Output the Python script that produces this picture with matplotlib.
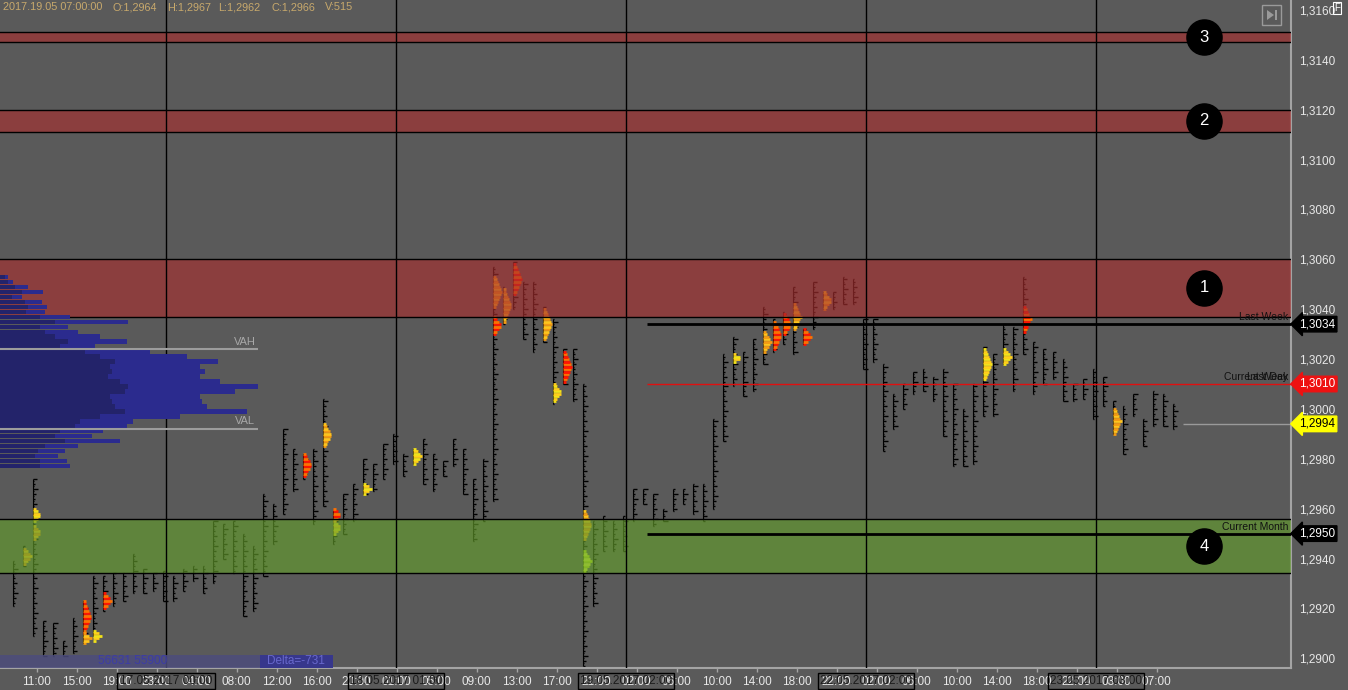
import matplotlib
matplotlib.use("Agg")
import matplotlib.pyplot as plt
import matplotlib.transforms as mtransforms
from matplotlib.patches import Rectangle, Polygon
import numpy as np

plt.rcParams['font.family'] = ['Liberation Sans', 'DejaVu Sans']

BG = '#5a5a5a'

# hourly bars, 16.05 11:00 .. 23.05 09:00
BAR_HIGH = [1.2939, 1.2945, 1.2972, 1.2915, 1.2914, 1.2907, 1.2916, 1.2923, 1.2933, 1.2933,
            1.2934, 1.2934, 1.2942, 1.2936, 1.2934, 1.2935, 1.2933, 1.2936, 1.2937, 1.2937,
            1.2955, 1.2954, 1.2955, 1.2950, 1.2945, 1.2966, 1.2962, 1.2992, 1.2984, 1.2982,
            1.2984, 1.3004, 1.2959, 1.2966, 1.2970, 1.2980, 1.2978, 1.2986, 1.2990, 1.2982,
            1.2984, 1.2988, 1.2982,
            1.2979, 1.2988, 1.2984, 1.2972, 1.2980, 1.3057, 1.3049, 1.3059, 1.3051, 1.3051,
            1.3041, 1.3036, 1.3024, 1.3024, 1.3010, 1.2955, 1.2957, 1.2955, 1.2957, 1.2968,
            1.2968, 1.2966, 1.2960, 1.2968, 1.2968, 1.2970, 1.2970, 1.2996, 1.3022, 1.3029,
            1.3023, 1.3028, 1.3041, 1.3036, 1.3039, 1.3049, 1.3032, 1.3051, 1.3047, 1.3047,
            1.3053, 1.3052,
            1.3036, 1.3036, 1.3018, 1.3006, 1.3010, 1.3015, 1.3016, 1.3013, 1.3016, 1.3010,
            1.3000, 1.3010, 1.3025, 1.3022, 1.3034, 1.3033, 1.3053, 1.3027, 1.3024, 1.3023,
            1.3020, 1.3010, 1.3012, 1.3016, 1.3013, 1.3003, 1.3001, 1.3006, 1.2996, 1.3007,
            1.3006, 1.3002]
BAR_LOW = [1.2921, 1.2937, 1.2909, 1.2901, 1.2901, 1.2901, 1.2902, 1.2906, 1.2909, 1.2919,
           1.2921, 1.2923, 1.2926, 1.2926, 1.2927, 1.2923, 1.2923, 1.2927, 1.2931, 1.2926,
           1.2930, 1.2940, 1.2934, 1.2917, 1.2919, 1.2933, 1.2946, 1.2958, 1.2967, 1.2972,
           1.2954, 1.2961, 1.2946, 1.2950, 1.2955, 1.2966, 1.2967, 1.2972, 1.2978, 1.2973,
           1.2978, 1.2970, 1.2967,
           1.2973, 1.2977, 1.2966, 1.2947, 1.2955, 1.2963, 1.3034, 1.3040, 1.3028, 1.3023,
           1.3027, 1.3002, 1.3010, 1.3003, 1.2897, 1.2921, 1.2943, 1.2943, 1.2943, 1.2955,
           1.2962, 1.2953, 1.2955, 1.2959, 1.2962, 1.2958, 1.2955, 1.2960, 1.2987, 1.3009,
           1.3005, 1.3007, 1.3018, 1.3023, 1.3026, 1.3022, 1.3026, 1.3032, 1.3040, 1.3040,
           1.3042, 1.3042,
           1.3016, 1.3019, 1.2983, 1.2992, 1.3000, 1.3006, 1.3007, 1.3003, 1.2989, 1.2977,
           1.2977, 1.2978, 1.2997, 1.2997, 1.3018, 1.3007, 1.3022, 1.3006, 1.3010, 1.3012,
           1.3003, 1.3003, 1.3004, 1.2996, 1.3001, 1.2990, 1.2982, 1.2997, 1.2985, 1.2993,
           1.2993, 1.2992]

# high-volume clusters inside bars
HOT_BAR = [1, 2, 2, 7, 7, 8, 9, 29, 31, 32, 32, 35, 40, 48, 48, 49, 50, 53, 54, 55,
           57, 57, 72, 75, 76, 77, 78, 79, 81, 97, 99, 101, 110]
HOT_LO = [1.2938, 1.2955, 1.2948, 1.2910, 1.2906, 1.2907, 1.2920, 1.2973, 1.2985, 1.2955,
          1.2950, 1.2966, 1.2978, 1.3041, 1.3030, 1.3035, 1.3046, 1.3028, 1.3003, 1.3011,
          1.2948, 1.2935, 1.3019, 1.3023, 1.3024, 1.3030, 1.3032, 1.3026, 1.3040, 1.3012,
          1.3018, 1.3031, 1.2990]
HOT_HI = [1.2944, 1.2960, 1.2953, 1.2923, 1.2910, 1.2911, 1.2926, 1.2982, 1.2994, 1.2960,
          1.2955, 1.2970, 1.2984, 1.3053, 1.3037, 1.3048, 1.3058, 1.3040, 1.3010, 1.3023,
          1.2959, 1.2943, 1.3022, 1.3031, 1.3035, 1.3038, 1.3042, 1.3032, 1.3047, 1.3024,
          1.3024, 1.3041, 1.3000]
HOT_KIND = ['o', 'y', 'o', 'r', 'o', 'y', 'r', 'r', 'o', 'r',
            'y', 'y', 'y', 'o', 'r', 'o', 'r', 'o', 'y', 'r',
            'o', 'g', 'y', 'o', 'r', 'r', 'o', 'r', 'o', 'y',
            'y', 'r', 'o']

# volume profile of the first session
PROFILE_PRICE = [1.3053, 1.3051, 1.3049, 1.3047, 1.3045, 1.3043, 1.3041, 1.3039, 1.3037, 1.3035,
                 1.3033, 1.3031, 1.3029, 1.3027, 1.3025, 1.3023, 1.3021, 1.3019, 1.3017, 1.3015,
                 1.3013, 1.3011, 1.3009, 1.3007, 1.3005, 1.3003, 1.3001, 1.2999, 1.2997, 1.2995,
                 1.2993, 1.2991, 1.2989, 1.2987, 1.2985, 1.2983, 1.2981, 1.2979, 1.2977]
PROFILE_TOTAL = [8, 13, 28, 43, 22, 42, 47, 45, 70, 128, 68, 78, 100, 127, 95, 150, 187, 218, 200, 205,
                 200, 220, 258, 235, 200, 202, 207, 247, 180, 133, 127, 103, 92, 120, 78, 65, 58, 67, 70]
PROFILE_DARK = [5, 8, 15, 22, 12, 25, 28, 26, 40, 55, 40, 45, 55, 68, 60, 85, 100, 115, 110, 112,
                108, 120, 128, 125, 110, 112, 115, 125, 100, 80, 75, 60, 55, 65, 45, 38, 35, 40, 40]
VAH = 1.3024
VAL = 1.2992

ZONE_LO = [1.3147, 1.3111, 1.3037, 1.2934]
ZONE_HI = [1.3151, 1.3120, 1.3060, 1.2956]
ZONE_KIND = ['sell', 'sell', 'sell', 'buy']
ZONE_NUM = ['3', '2', '1', '4']

LEVEL_PRICE = [1.3034, 1.3010, 1.2950]
LEVEL_NAMES = [['Last Week'], ['Current Week', 'Last Day'], ['Current Month']]
LAST_PRICE = 1.2994

TICK_LABELS = ['11:00', '15:00', '19:00', '23:00', '04:00', '08:00', '12:00', '16:00', '20:00', '01:00',
               '05:00', '09:00', '13:00', '17:00', '21:00', '02:00', '06:00', '10:00', '14:00', '18:00',
               '22:00', '02:00', '06:00', '10:00', '14:00', '18:00', '22:00', '03:00', '07:00']
DAY_BARS = [15, 38, 61, 85, 108]
DAY_LABELS = ['17.05.2017 00:00', '18.05.2017 01:00', '19.05.2017 02:00',
              '22.05.2017 02:00', '23.05.2017 03:00']
WEEK_BAR = 63

HEADER = ['2017.19.05 07:00:00', 'O:1,2964', 'H:1,2967', 'L:1,2962', 'C:1,2966', 'V:515']
VOL_TEXT = '56631 55900'
DELTA_TEXT = 'Delta=-731'


def fmt(v):
    return '{:.4f}'.format(v).replace('.', ',')


fig = plt.figure(figsize=(13.48, 6.90), dpi=100, facecolor=BG)
ax = fig.add_axes([0, 22 / 690, 1291 / 1348, 668 / 690])
ax.set_facecolor(BG)
XMIN, XMAX = -1.25, 127.85
ax.set_xlim(XMIN, XMAX)
ax.set_ylim(1.28961, 1.31640)

# bars drawn as footprint columns
xs = np.arange(len(BAR_HIGH))
ax.vlines(xs, BAR_LOW, BAR_HIGH, color='black', lw=0.8, zorder=2)
tick_pat = [0.1, 0.22, 0.12, 0.32, 0.15, 0.5, 0.1, 0.28, 0.18, 0.4]
for i, (hi, lo) in enumerate(zip(BAR_HIGH, BAR_LOW)):
    levels = np.arange(lo, hi + 1e-9, 0.0001)
    widths = np.array([tick_pat[(i * 3 + k) % len(tick_pat)] for k in range(len(levels))])
    ax.hlines(levels, i, i + widths, color='black', lw=1.0, zorder=2)

hot_cols = {'o': ('#f39a12', '#ffc41c'), 'y': ('#f2e21a', '#ffcf1a'),
            'r': ('#ff1400', '#ff7000'), 'g': ('#c4ee1a', '#e6ff3c')}
for b, lo, hi, kind in zip(HOT_BAR, HOT_LO, HOT_HI, HOT_KIND):
    levels = np.arange(lo, hi + 1e-9, 0.0001)
    n = len(levels)
    for k, lv in enumerate(levels):
        t = k / (n - 1) if n > 1 else 0.5
        w = 0.3 + 0.6 * (1 - abs(2 * t - 1))
        ax.hlines(lv, b, b + w, color=hot_cols[kind][k % 2], lw=2.0, zorder=2.5)

# supply / demand zones
zone_cols = {'sell': '#a72f2f', 'buy': '#639c2c'}
for lo, hi, kind, num in zip(ZONE_LO, ZONE_HI, ZONE_KIND, ZONE_NUM):
    ax.axhspan(lo, hi, color=zone_cols[kind], alpha=0.65, lw=0, zorder=3)
    ax.axhline(lo, color='black', lw=1, zorder=4)
    ax.axhline(hi, color='black', lw=1, zorder=4)
    ax.scatter([119.15], [(lo + hi) / 2], s=640, c='black', zorder=8)
    ax.text(119.15, (lo + hi) / 2, num, color='white', fontsize=12,
            ha='center', va='center', zorder=9)

# day separators
for d in DAY_BARS:
    ax.axvline(d + 0.35, color='black', lw=1, zorder=4)

# volume profile
scale = 25.8 / max(PROFILE_TOTAL)
ax.barh(PROFILE_PRICE, np.array(PROFILE_TOTAL) * scale, height=0.00017, left=XMIN,
        color='#2b2b8e', lw=0, zorder=5)
ax.barh(PROFILE_PRICE, np.array(PROFILE_DARK) * scale, height=0.00017, left=XMIN,
        color='#23236a', lw=0, zorder=5.1)
ax.hlines([VAH, VAL], XMIN, 24.55, color='#9c9c9c', lw=1.5, zorder=6)
ax.text(23.2, VAH + 0.0001, 'VAH', color='#a8a8a8', fontsize=8, ha='center', va='bottom', zorder=6)
ax.text(23.2, VAL + 0.0001, 'VAL', color='#a8a8a8', fontsize=8, ha='center', va='bottom', zorder=6)

# weekly / monthly levels
level_cols = ['black', '#e01010', 'black']
level_lw = [2, 1, 2]
for p, names, c, lw in zip(LEVEL_PRICE, LEVEL_NAMES, level_cols, level_lw):
    ax.hlines(p, WEEK_BAR + 0.45, XMAX, color=c, lw=lw, zorder=6)
    for name in names:
        ax.text(127.55, p + 0.00008, name, color='#111111', fontsize=7.5,
                ha='right', va='bottom', zorder=6)
ax.hlines(LAST_PRICE, 117.05, XMAX, color='#9a9a9a', lw=1, zorder=6)

# axes styling
for s in ['top', 'left']:
    ax.spines[s].set_visible(False)
for s in ['bottom', 'right']:
    ax.spines[s].set_color('#a4a4a4')
    ax.spines[s].set_linewidth(1.5)

yt = np.arange(1.2900, 1.31601, 0.0020)
ax.yaxis.tick_right()
ax.set_yticks(yt)
ax.set_yticklabels([fmt(v) for v in yt])
ax.tick_params(axis='y', length=0, pad=6, labelcolor='#e8e8e8', labelsize=8.5)

xt = [2.4 + 4 * k for k in range(len(TICK_LABELS))]
ax.set_xticks(xt)
ax.set_xticklabels(TICK_LABELS)
ax.tick_params(axis='x', length=3, width=1, color='#a4a4a4', pad=2.5,
               labelcolor='#e8e8e8', labelsize=8.5)

btrans = mtransforms.blended_transform_factory(ax.transData, ax.transAxes)
for d, lab in zip(DAY_BARS, DAY_LABELS):
    ax.text(d + 0.35, -0.0195, lab, transform=btrans, ha='center', va='center',
            fontsize=8.5, color='#1c1c1c', clip_on=False, zorder=10,
            bbox=dict(boxstyle='square,pad=0.2', fc='none', ec='black', lw=1))

# price tags on the right axis
rtrans = mtransforms.blended_transform_factory(ax.transAxes, ax.transData)
tags = [(LEVEL_PRICE[0], 'black', 'white'), (LEVEL_PRICE[1], '#ee1111', 'white'),
        (LAST_PRICE, '#ffff00', 'black'), (LEVEL_PRICE[2], 'black', 'white')]
for p, fc, tc in tags:
    ax.text(1.0062, p, fmt(p), transform=rtrans, ha='left', va='center', fontsize=8.5,
            color=tc, clip_on=False, zorder=10,
            bbox=dict(boxstyle='larrow,pad=0.15', fc=fc, ec=fc))

# header line
hx = [3, 113, 167, 218, 272, 325]
for x, t in zip(hx, HEADER):
    fig.text(x / 1348, 1 - 7 / 690, t, color='#c8a96c', fontsize=7.8, ha='left', va='center')

# volume / delta strip
ax.add_patch(Rectangle((0, 0), 333 / 1291, 13 / 668, transform=ax.transAxes,
                       fc='#4c4c7c', ec='none', alpha=0.85, zorder=8))
ax.add_patch(Rectangle((260 / 1291, 0), 73 / 1291, 13 / 668, transform=ax.transAxes,
                       fc='#37378c', ec='none', zorder=8.5))
ax.text(133 / 1291, 6.5 / 668, VOL_TEXT, transform=ax.transAxes, color='#3c3ca6',
        fontsize=8.5, ha='center', va='center', zorder=9)
ax.text(296 / 1291, 6.5 / 668, DELTA_TEXT, transform=ax.transAxes, color='#6868cc',
        fontsize=8.5, ha='center', va='center', zorder=9)

# small buttons at the top right
ax.add_patch(Rectangle((1262 / 1291, 1 - 25 / 668), 19 / 1291, 20 / 668, transform=ax.transAxes,
                       fc='none', ec='#9a9a9a', lw=1, zorder=9))
ax.add_patch(Polygon([(1267 / 1291, 1 - 10 / 668), (1267 / 1291, 1 - 20 / 668),
                      (1274 / 1291, 1 - 15 / 668)], closed=True, transform=ax.transAxes,
                     fc='#9a9a9a', ec='none', zorder=9))
ax.add_patch(Rectangle((1275 / 1291, 1 - 20 / 668), 2 / 1291, 10 / 668, transform=ax.transAxes,
                       fc='#9a9a9a', ec='none', zorder=9))
fig.text(1337 / 1348, 1 - 8 / 690, 'F', color='white', fontsize=7, ha='center', va='center',
         bbox=dict(boxstyle='square,pad=0.15', fc='none', ec='white', lw=0.8))

fig.savefig('out.png', dpi=100, facecolor=BG)
